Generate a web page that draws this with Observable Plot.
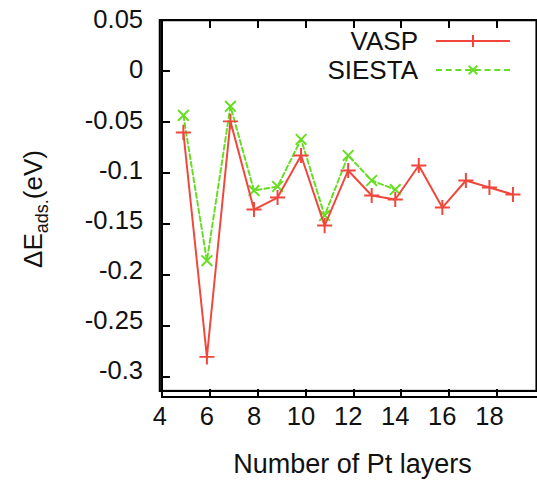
<!DOCTYPE html>
<html><head><meta charset="utf-8">
<script src="https://cdn.jsdelivr.net/npm/d3@7"></script>
<script src="https://cdn.jsdelivr.net/npm/@observablehq/plot@0.6"></script>
<style>
body{margin:0;background:#fff;}
#wrap{position:relative;width:537px;height:481px;overflow:hidden;background:#fff;font-family:'Liberation Sans', Arial, sans-serif;color:#111;}
#wrap svg{font-family:'Liberation Sans', Arial, sans-serif;font-size:26px;color:#111;background:#fff;}
.lbl{position:absolute;font-size:26px;line-height:26px;white-space:nowrap;}
.mk{position:absolute;}
</style></head><body><div id="wrap"></div>
<script>
// Data
const layersVASP = [5,6,7,8,9,10,11,12,13,14,15,16,17,18,19];
const valuesVASP = [-0.062,-0.286,-0.051,-0.139,-0.127,-0.085,-0.155,-0.100,-0.125,-0.129,-0.095,-0.137,-0.110,-0.117,-0.124];
const layersSIESTA = [5,6,7,8,9,10,11,12,13,14];
const valuesSIESTA = [-0.045,-0.190,-0.036,-0.120,-0.116,-0.069,-0.145,-0.085,-0.110,-0.119];
const seriesNames = ["VASP","SIESTA"];
const xTicks = [4,6,8,10,12,14,16,18];
const yTicks = [0.05,0,-0.05,-0.1,-0.15,-0.2,-0.25,-0.3];
const xLabel = "Number of Pt layers";
const xDomain = [4, 20];
const yDomain = [-0.32, 0.05];

const RED = "#f0463c", GREEN = "#66dd22";
const vasp = layersVASP.map((x,i)=>({x, y: valuesVASP[i]}));
const siesta = layersSIESTA.map((x,i)=>({x, y: valuesSIESTA[i]}));
const fmt = d => String(+d.toFixed(2));

const plot = Plot.plot({
  width: 546, height: 481,
  marginTop: 20, marginBottom: 84, marginLeft: 162, marginRight: 1,
  x: {domain: xDomain},
  y: {domain: yDomain},
  marks: [
    Plot.axisX({ticks: xTicks, tickSize: 0, tickPadding: 16, label: null, fontSize: 26}),
    Plot.axisY({ticks: yTicks, tickSize: 0, tickPadding: 17, tickFormat: fmt, label: null, fontSize: 26}),
    Plot.frame({stroke: "#000", strokeWidth: 2.2}),
    Plot.line(siesta, {x: "x", y: "y", stroke: GREEN, strokeWidth: 2, strokeDasharray: "5,3"}),
    Plot.dot(siesta, {x: "x", y: "y", symbol: "times", r: 5, stroke: GREEN, strokeWidth: 2}),
    Plot.line(vasp, {x: "x", y: "y", stroke: RED, strokeWidth: 2}),
    Plot.dot(vasp, {x: "x", y: "y", symbol: "plus", r: 5, stroke: RED, strokeWidth: 2})
  ]
});
const wrap = document.getElementById("wrap");
wrap.appendChild(plot);

function addDiv(cls, css, html) {
  const d = document.createElement("div");
  d.className = cls; d.style.cssText = css; d.innerHTML = html || "";
  wrap.appendChild(d); return d;
}
const sx = v => plot.scale("x").apply(v);
const sy = v => plot.scale("y").apply(v);
const x0 = sx(xDomain[0]), x1 = sx(xDomain[1]), yB = sy(yDomain[0]), yT = sy(yDomain[1]);

// frame (overlay) with inward mirrored ticks, positioned from Plot's scales
addDiv("mk", `left:${x0 - 1}px;top:${yT - 1}px;width:${x1 - x0 + 2}px;height:${yB - yT + 2}px;box-sizing:border-box;border:2px solid #000;`);
xTicks.forEach(t => {
  const px = sx(t);
  addDiv("mk", `left:${px - 1}px;top:${yB - 8}px;width:2px;height:8px;background:#000;`);
  addDiv("mk", `left:${px - 1}px;top:${yT}px;width:2px;height:8px;background:#000;`);
});
yTicks.forEach(t => {
  const py = sy(t);
  addDiv("mk", `left:${x0}px;top:${py - 1}px;width:8px;height:2px;background:#000;`);
  addDiv("mk", `left:${x1 - 8}px;top:${py - 1}px;width:8px;height:2px;background:#000;`);
});

// x-axis label
addDiv("lbl", `left:${(x0 + x1) / 2 - 1}px;top:451px;transform:translateX(-50%);font-size:27px;`, xLabel);
// y-axis label with subscript
addDiv("lbl", `left:34px;top:${(yT + yB) / 2}px;transform:translate(-50%,-50%) rotate(-90deg);`,
  'ΔE<span style="font-size:18px;position:relative;top:6px;">ads.</span>(eV)');

// legend (HTML overlay)
const legItems = [
  {name: seriesNames[0], color: RED, style: "solid", rot: 0, y: 41},
  {name: seriesNames[1], color: GREEN, style: "dashed", rot: 45, y: 70}
];
legItems.forEach(it => {
  addDiv("lbl", `left:268px;width:150px;text-align:right;top:${it.y - 13}px;`, it.name);
  addDiv("mk", `left:436px;top:${it.y - 1}px;width:74px;height:0;border-top:2px ${it.style} ${it.color};`);
  const g = addDiv("mk", `left:467px;top:${it.y - 6}px;width:12px;height:12px;transform:rotate(${it.rot}deg);`);
  g.innerHTML = `<div style="position:absolute;left:0;top:5px;width:12px;height:2px;background:${it.color}"></div>` +
                `<div style="position:absolute;left:5px;top:0;width:2px;height:12px;background:${it.color}"></div>`;
});
</script>
</body></html>
